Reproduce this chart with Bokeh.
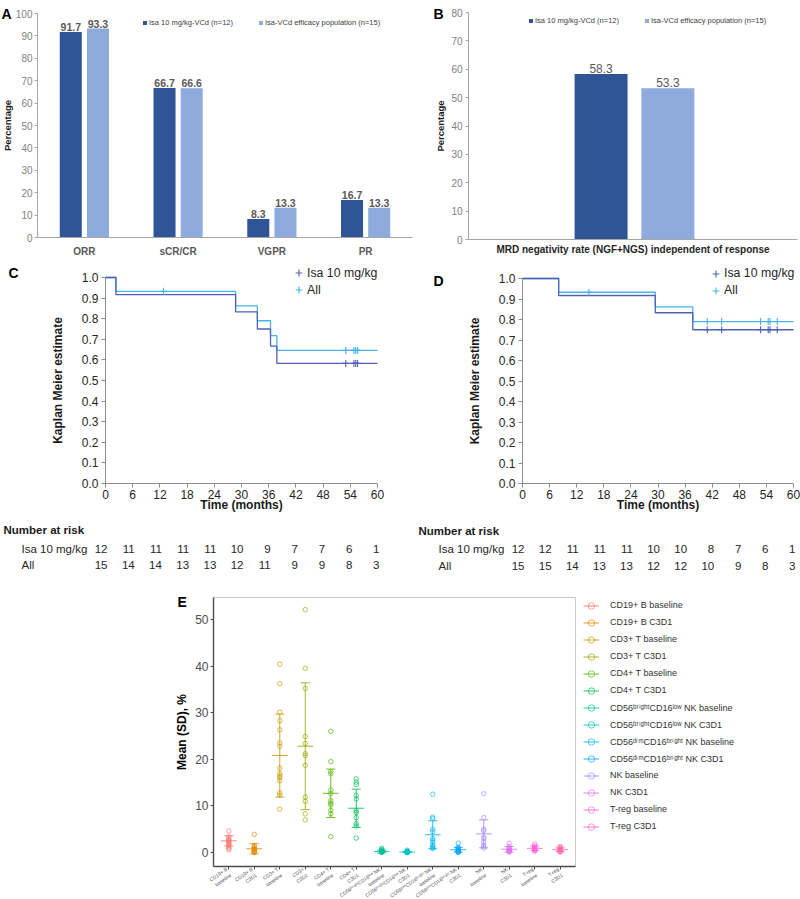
import math
from bokeh.plotting import figure
from bokeh.layouts import column, row
from bokeh.models import (ColumnDataSource, Range1d, Legend, LegendItem, LinearAxis,
                          FixedTicker, PrintfTickFormatter, BoxAnnotation)
from bokeh.transform import dodge
from bokeh.core.properties import value
from bokeh.embed import file_html
from bokeh.resources import INLINE

FONT = "Liberation Sans"
DARK = "#2F5597"
LIGHT = "#8FAADC"
ISA_C = "#5160B6"
ALL_C = "#45B4E8"

# ---------------- Panel A: response rates ----------------
response_categories = ["ORR", "sCR/CR", "VGPR", "PR"]
response_isa10 = [91.7, 66.7, 8.3, 16.7]
response_efficacy = [93.3, 66.6, 13.3, 13.3]
bar_series = ["Isa 10 mg/kg-VCd (n=12)", "Isa-VCd efficacy population (n=15)"]

# ---------------- Panel B: MRD negativity ----------------
mrd_category = ["MRD negativity rate (NGF+NGS) independent of response"]
mrd_isa10 = [58.3]
mrd_efficacy = [53.3]

# ---------------- Panel C: Kaplan-Meier ----------------
c_isa_t = [0, 2.3, 28.7, 33.5, 36.4, 37.8, 60]
c_isa_s = [1.0, 0.917, 0.833, 0.750, 0.667, 0.583, 0.583]
c_all_t = [0, 2.3, 28.7, 33.5, 36.4, 37.8, 60]
c_all_s = [1.0, 0.933, 0.862, 0.790, 0.718, 0.646, 0.646]
c_isa_cens_t = [53.0, 54.8, 55.2, 55.6]
c_isa_cens_s = [0.583, 0.583, 0.583, 0.583]
c_all_cens_t = [12.8, 53.0, 54.8, 55.2, 55.6]
c_all_cens_s = [0.933, 0.646, 0.646, 0.646, 0.646]
risk_times = [0, 6, 12, 18, 24, 30, 36, 42, 48, 54, 60]
c_risk_isa = [12, 11, 11, 11, 11, 10, 9, 7, 7, 6, 1]
c_risk_all = [15, 14, 14, 13, 13, 12, 11, 9, 9, 8, 3]

# ---------------- Panel D: Kaplan-Meier ----------------
d_isa_t = [0, 8.0, 29.4, 37.7, 60]
d_isa_s = [1.0, 0.917, 0.833, 0.750, 0.750]
d_all_t = [0, 8.0, 29.4, 37.7, 60]
d_all_s = [1.0, 0.933, 0.862, 0.790, 0.790]
d_isa_cens_t = [40.9, 44.1, 52.7, 54.4, 54.8, 56.4]
d_isa_cens_s = [0.75, 0.75, 0.75, 0.75, 0.75, 0.75]
d_all_cens_t = [14.7, 40.9, 44.1, 52.7, 54.4, 54.8, 56.4]
d_all_cens_s = [0.933, 0.79, 0.79, 0.79, 0.79, 0.79, 0.79]
d_risk_isa = [12, 12, 11, 11, 11, 10, 10, 8, 7, 6, 1]
d_risk_all = [15, 15, 14, 13, 13, 12, 12, 10, 9, 8, 3]
km_series = ["Isa 10 mg/kg", "All"]

# ---------------- Panel E: immune cell subsets ----------------
e_names = ["CD19+ B baseline", "CD19+ B C3D1", "CD3+ T baseline", "CD3+ T C3D1",
           "CD4+ T baseline", "CD4+ T C3D1",
           "CD56ᵇʳⁱᵍʰᵗCD16ˡᵒʷ NK baseline", "CD56ᵇʳⁱᵍʰᵗCD16ˡᵒʷ NK C3D1",
           "CD56ᵈⁱᵐCD16ᵇʳⁱᵍʰᵗ NK baseline", "CD56ᵈⁱᵐCD16ᵇʳⁱᵍʰᵗ NK C3D1",
           "NK baseline", "NK C3D1", "T-reg baseline", "T-reg C3D1"]
e_ticklabels = ["CD19+ B\nbaseline", "CD19+ B\nC3D1", "CD3+ T\nbaseline", "CD3+\nC3D1",
                "CD4+ T\nbaseline", "CD4+ T\nC3D1",
                "CD56ᵇʳⁱᵍʰᵗCD16ˡᵒʷ NK\nbaseline", "CD56ᵇʳⁱᵍʰᵗCD16ˡᵒʷ NK\nC3D1",
                "CD56ᵈⁱᵐCD16ᵇʳⁱᵍʰᵗ NK\nbaseline", "CD56ᵈⁱᵐCD16ᵇʳⁱᵍʰᵗ NK\nC3D1",
                "NK\nbaseline", "NK\nC3D1", "T-reg\nbaseline", "T-reg\nC3D1"]
cd19_b_base = [4.6, 3.4, 3.0, 2.7, 2.5, 2.2, 2.0, 1.8, 1.5, 1.2, 0.9, 0.6]
cd19_b_c3d1 = [3.9, 1.5, 1.2, 1.0, 0.8, 0.6, 0.5, 0.3, 0.2, 0.1, 0.0]
cd3_t_base = [40.4, 36.2, 30.1, 28.3, 26.3, 23.5, 22.8, 18.1, 16.9, 16.4, 16.0, 15.4, 12.8, 12.3, 9.3]
cd3_t_c3d1 = [52.1, 39.5, 35.2, 24.9, 23.4, 21.2, 20.8, 18.7, 11.9, 11.0, 8.3, 7.0]
cd4_t_base = [26.0, 19.5, 17.4, 16.9, 13.4, 12.6, 11.1, 10.6, 10.2, 9.0, 8.3, 3.4]
cd4_t_c3d1 = [15.8, 15.1, 14.6, 12.2, 11.5, 9.0, 8.6, 7.5, 6.2, 5.7, 3.1]
cd56br_base = [0.9, 0.7, 0.5, 0.4, 0.3, 0.25, 0.2, 0.2, 0.15, 0.1, 0.1, 0.05]
cd56br_c3d1 = [0.5, 0.3, 0.2, 0.15, 0.1, 0.1, 0.05, 0.05, 0.0, 0.0]
cd56dim_base = [12.5, 7.6, 7.3, 5.0, 4.5, 3.0, 2.6, 2.2, 1.5, 1.2, 1.0, 0.9]
cd56dim_c3d1 = [2.0, 1.1, 0.9, 0.7, 0.5, 0.4, 0.3, 0.2, 0.1, 0.0]
nk_base = [12.6, 7.5, 5.0, 4.7, 3.3, 3.0, 2.3, 1.6, 1.3, 0.95]
nk_c3d1 = [2.0, 1.3, 1.0, 0.8, 0.6, 0.4, 0.3, 0.2, 0.1]
treg_base = [1.8, 1.4, 1.2, 1.0, 0.9, 0.7, 0.6, 0.4, 0.3]
treg_c3d1 = [1.3, 1.1, 0.9, 0.7, 0.6, 0.5, 0.3, 0.2, 0.1]
e_means = [2.5, 0.8, 20.8, 22.8, 12.7, 9.5, 0.2, 0.1, 3.8, 0.6, 4.0, 0.7, 0.9, 0.6]
e_sds = [1.1, 1.1, 8.9, 13.6, 5.2, 4.1, 0.3, 0.15, 3.0, 0.5, 3.0, 0.6, 0.5, 0.4]
E_COLORS = ["#F8766D", "#E38900", "#C49A00", "#99A800", "#53B400", "#00BC56", "#00C094",
            "#00BFC4", "#00B6EB", "#06A4FF", "#A58AFF", "#DF70F8", "#FB61D7", "#FF66A8"]


def make_fig(W, H, l, r, t, b, x0, x1, y0, y1):
    """Figure whose frame is the whole canvas; the data box spans pixels l..r, t..b."""
    sx = (x1 - x0) / (r - l)
    sy = (y1 - y0) / (b - t)
    xr = Range1d(x0 - l * sx, x1 + (W - r) * sx)
    yr = Range1d(y0 - (H - b) * sy, y1 + t * sy)
    p = figure(width=W, height=H, x_range=xr, y_range=yr, x_axis_type=None, y_axis_type=None,
               output_backend="svg", toolbar_location=None, min_border=0, title=None)
    p.outline_line_color = None
    p.background_fill_color = "white"
    p.border_fill_color = "white"
    return p, (lambda v: xr.start + v * sx), (lambda v: yr.end - v * sy)


def ptext(p, fx, fy, px, py, text, size, color="#262626", bold=False, align="left",
          baseline="middle", angle=0.0):
    p.text(x=[fx(px)], y=[fy(py)], text=[text], text_font=value(FONT), text_font_size=size,
           text_color=color, text_font_style="bold" if bold else "normal",
           text_align=align, text_baseline=baseline, angle=angle)


def letter(p, fx, fy, px, py, text):
    ptext(p, fx, fy, px, py, text, "14px", color="black", bold=True, baseline="alphabetic")


def axis(p, side, loc, bounds, ticks, color, width=1.0, tick_out=3, label_size="10px",
         label_color="#262626", standoff=2):
    ax = LinearAxis(fixed_location=loc, bounds=bounds, ticker=FixedTicker(ticks=ticks))
    ax.axis_line_color = color
    ax.axis_line_width = width
    ax.major_tick_line_color = color
    ax.major_tick_out = tick_out
    ax.major_tick_in = 0
    ax.minor_tick_line_color = None
    ax.major_label_text_font = FONT
    ax.major_label_text_font_size = label_size
    ax.major_label_text_color = label_color
    ax.major_label_standoff = standoff
    ax.axis_label_text_font = FONT
    ax.axis_label_text_font_style = "bold"
    p.add_layout(ax, side)
    return ax


def bar_legend(p, r1, r2, loc):
    leg = Legend(items=[LegendItem(label=bar_series[0], renderers=[r1]),
                        LegendItem(label=bar_series[1], renderers=[r2])],
                 orientation="horizontal", location=loc, glyph_width=5, glyph_height=5,
                 label_height=9, label_standoff=2, spacing=25, padding=0, margin=0,
                 border_line_color=None, background_fill_alpha=0,
                 label_text_font=FONT, label_text_font_size="7.5px", label_text_color="#404040")
    p.add_layout(leg)


# ---------------- Panel A ----------------
WA, HA = 424, 256
nA = len(response_categories)
pA, fxA, fyA = make_fig(WA, HA, 37, 412, 13, 237, -0.5, nA - 0.5, 0, 100)
srcA = ColumnDataSource(dict(x=list(range(nA)), isa=response_isa10, eff=response_efficacy,
                             isa_lbl=[f"{v:.1f}" for v in response_isa10],
                             eff_lbl=[f"{v:.1f}" for v in response_efficacy]))
rA1 = pA.vbar(x=dodge("x", -0.145), top="isa", bottom=0, width=0.235, source=srcA,
              fill_color=DARK, line_color=None)
rA2 = pA.vbar(x=dodge("x", 0.145), top="eff", bottom=0, width=0.235, source=srcA,
              fill_color=LIGHT, line_color=None)
for off, lbl, ycol in ((-0.145, "isa_lbl", "isa"), (0.145, "eff_lbl", "eff")):
    pA.text(x=dodge("x", off), y=ycol, text=lbl, source=srcA, text_align="center",
            text_baseline="bottom", y_offset=-1, text_font=value(FONT),
            text_font_size="10.5px", text_font_style="bold", text_color="#595959")
ayA = axis(pA, "left", -0.5, (0, 100), list(range(0, 101, 10)), "#a6a6a6",
           label_color="#7f7f7f", standoff=2)
ayA.axis_label = "Percentage"
ayA.axis_label_text_font_size = "9.5px"
ayA.axis_label_text_color = "#1a1a1a"
ayA.axis_label_standoff = 0
axA = axis(pA, "below", 0, (-0.5, nA - 0.5), list(range(nA)), "#a6a6a6",
           label_color="#595959", standoff=5)
axA.major_tick_line_color = None
axA.major_label_text_font_style = "bold"
axA.major_label_overrides = {i: c for i, c in enumerate(response_categories)}
bar_legend(pA, rA1, rA2, (142, HA - 26.5))
letter(pA, fxA, fyA, 1, 13, "A")

# ---------------- Panel B ----------------
WB, HB = 376, 256
nB = len(mrd_category)
pB, fxB, fyB = make_fig(WB, HB, 44, 373, 12, 239, -0.5, nB - 0.5, 0, 80)
srcB = ColumnDataSource(dict(x=list(range(nB)), isa=mrd_isa10, eff=mrd_efficacy,
                             isa_lbl=[f"{v:.1f}" for v in mrd_isa10],
                             eff_lbl=[f"{v:.1f}" for v in mrd_efficacy]))
rB1 = pB.vbar(x=dodge("x", -0.097), top="isa", bottom=0, width=0.161, source=srcB,
              fill_color=DARK, line_color=None)
rB2 = pB.vbar(x=dodge("x", 0.106), top="eff", bottom=0, width=0.161, source=srcB,
              fill_color=LIGHT, line_color=None)
for off, lbl, ycol in ((-0.097, "isa_lbl", "isa"), (0.106, "eff_lbl", "eff")):
    pB.text(x=dodge("x", off), y=ycol, text=lbl, source=srcB, text_align="center",
            text_baseline="bottom", y_offset=-1, text_font=value(FONT),
            text_font_size="12px", text_color="#595959")
ayB = axis(pB, "left", -0.5, (0, 80), list(range(0, 81, 10)), "#a6a6a6",
           label_color="#7f7f7f", standoff=3)
ayB.axis_label = "Percentage"
ayB.axis_label_text_font_size = "9.5px"
ayB.axis_label_text_color = "#1a1a1a"
ayB.axis_label_standoff = 2
axB = axis(pB, "below", 0, (-0.5, nB - 0.5), list(range(nB)), "#a6a6a6",
           label_color="#262626", standoff=1)
axB.major_tick_line_color = None
axB.major_label_text_font_style = "bold"
axB.major_label_overrides = {i: c for i, c in enumerate(mrd_category)}
bar_legend(pB, rB1, rB2, (104, HB - 24.5))
letter(pB, fxB, fyB, 9, 13, "B")


# ---------------- KM panels ----------------
def km_panel(W, l, r, t, isa_t, isa_s, all_t, all_s, ict, ics, act, acs,
             risk_isa, risk_all, leg_x, leg_top, head_xy, row_x, row_ys, letter_txt, letter_xy):
    H = 316
    b = 227
    p, fx, fy = make_fig(W, H, l, r, t, b, 0, 60, 0, 1.0)
    p.step(x=all_t, y=all_s, mode="after", line_color=ALL_C, line_width=1.3)
    p.step(x=isa_t, y=isa_s, mode="after", line_color=ISA_C, line_width=1.3)
    ci = p.scatter(x=ict, y=ics, marker="cross", size=7, line_color=ISA_C, line_width=1.1)
    ca = p.scatter(x=act, y=acs, marker="cross", size=7, line_color=ALL_C, line_width=1.1)
    leg = Legend(items=[LegendItem(label=km_series[0], renderers=[ci]),
                        LegendItem(label=km_series[1], renderers=[ca])],
                 location=(leg_x, H - leg_top - 34), glyph_width=17, glyph_height=17,
                 label_height=17, label_standoff=0, spacing=0, padding=0, margin=0,
                 border_line_color=None, background_fill_alpha=0,
                 label_text_font=FONT, label_text_font_size="12.3px", label_text_color="#262626")
    p.add_layout(leg)
    ya = axis(p, "left", 0, (0, 1.0), [i / 10 for i in range(11)], "#8c8c8c", tick_out=4,
              label_size="12px", label_color="#262626", standoff=3)
    ya.formatter = PrintfTickFormatter(format="%.1f")
    ya.axis_label = "Kaplan Meier estimate"
    ya.axis_label_text_font_size = "12px"
    ya.axis_label_text_color = "#1a1a1a"
    ya.axis_label_standoff = 14
    xa = axis(p, "below", 0, (0, 60), risk_times, "#8c8c8c", tick_out=4,
              label_size="12px", label_color="#262626", standoff=2)
    xa.axis_label = "Time (months)"
    xa.axis_label_text_font_size = "12px"
    xa.axis_label_text_color = "#1a1a1a"
    xa.axis_label_standoff = -4
    # number at risk
    ptext(p, fx, fy, head_xy[0], head_xy[1], "Number at risk", "11.5px", "#1a1a1a", bold=True)
    for name, counts, yy in ((km_series[0], risk_isa, row_ys[0]), (km_series[1], risk_all, row_ys[1])):
        ptext(p, fx, fy, row_x, yy, name, "11.5px")
        p.text(x=risk_times, y=[fy(yy)] * len(risk_times), text=[str(v) for v in counts],
               text_font=value(FONT), text_font_size="11.5px", text_color="#262626",
               text_align="right", x_offset=2, text_baseline="middle")
    letter(p, fx, fy, letter_xy[0], letter_xy[1], letter_txt)
    return p


pC = km_panel(408, 105, 377, 21, c_isa_t, c_isa_s, c_all_t, c_all_s, c_isa_cens_t, c_isa_cens_s,
              c_all_cens_t, c_all_cens_s, c_risk_isa, c_risk_all, 290, 8.2, (3, 273), 21,
              (292, 308), "C", (8, 16.7))
pD = km_panel(392, 114, 385, 22, d_isa_t, d_isa_s, d_all_t, d_all_s, d_isa_cens_t, d_isa_cens_s,
              d_all_cens_t, d_all_cens_s, d_risk_isa, d_risk_all, 299, 8.5, (10, 274), 30,
              (292, 309), "D", (25, 24))

# ---------------- Panel E ----------------
WE, HE = 800, 327
nE = len(e_names)
X0E, X1E, Y0E, Y1E = -0.6, nE - 0.4, -3.0, 54.7
pE, fxE, fyE = make_fig(WE, HE, 213, 575, 25, 294, X0E, X1E, Y0E, Y1E)
pE.add_layout(BoxAnnotation(left=X0E, right=X1E, bottom=Y0E, top=Y1E, fill_alpha=0,
                            line_color="#4d4d4d", line_width=1))
e_values = [cd19_b_base, cd19_b_c3d1, cd3_t_base, cd3_t_c3d1, cd4_t_base, cd4_t_c3d1,
            cd56br_base, cd56br_c3d1, cd56dim_base, cd56dim_c3d1, nk_base, nk_c3d1,
            treg_base, treg_c3d1]
CAP = 0.18
MEANW = 0.31
e_items = []
for i, (vals, m, s, colr, name) in enumerate(zip(e_values, e_means, e_sds, E_COLORS, e_names)):
    seg = ColumnDataSource(dict(x0=[i, i - CAP, i - CAP, i - MEANW],
                                y0=[m - s, m - s, m + s, m],
                                x1=[i, i + CAP, i + CAP, i + MEANW],
                                y1=[m + s, m - s, m + s, m]))
    rs = pE.segment("x0", "y0", "x1", "y1", source=seg, line_color=colr, line_width=1,
                    line_alpha=0.85)
    rp = pE.scatter(x=[i] * len(vals), y=vals, marker="circle", size=4.5, fill_color=None,
                    line_color=colr, line_alpha=0.75, line_width=0.9)
    e_items.append(LegendItem(label=name, renderers=[rs, rp]))
legE = Legend(items=e_items, location=(583, HE - 24.5 - 17 * nE), glyph_width=16,
              glyph_height=17, label_height=17, label_standoff=11, spacing=0, padding=0,
              margin=0, border_line_color=None, background_fill_alpha=0,
              label_text_font=FONT, label_text_font_size="9px", label_text_color="#333333")
pE.add_layout(legE)
yaE = axis(pE, "left", X0E, (Y0E, Y1E), [0, 10, 20, 30, 40, 50], "#4d4d4d", width=1.4,
           label_size="12px", label_color="#4d4d4d", standoff=2)
yaE.axis_label = "Mean (SD), %"
yaE.axis_label_text_font_size = "12px"
yaE.axis_label_text_color = "black"
yaE.axis_label_standoff = 3
xaE = axis(pE, "below", Y0E, (X0E, X1E), list(range(nE)), "#4d4d4d", width=1.4,
           label_size="5px", label_color="#4d4d4d", standoff=2)
xaE.major_label_overrides = {i: lbl for i, lbl in enumerate(e_ticklabels)}
xaE.major_label_orientation = 0.6
letter(pE, fxE, fyE, 177, 29.7, "E")

layout = column(row(pA, pB), row(pC, pD), pE)
with open("out.html", "w") as f:
    f.write(file_html(layout, INLINE))
